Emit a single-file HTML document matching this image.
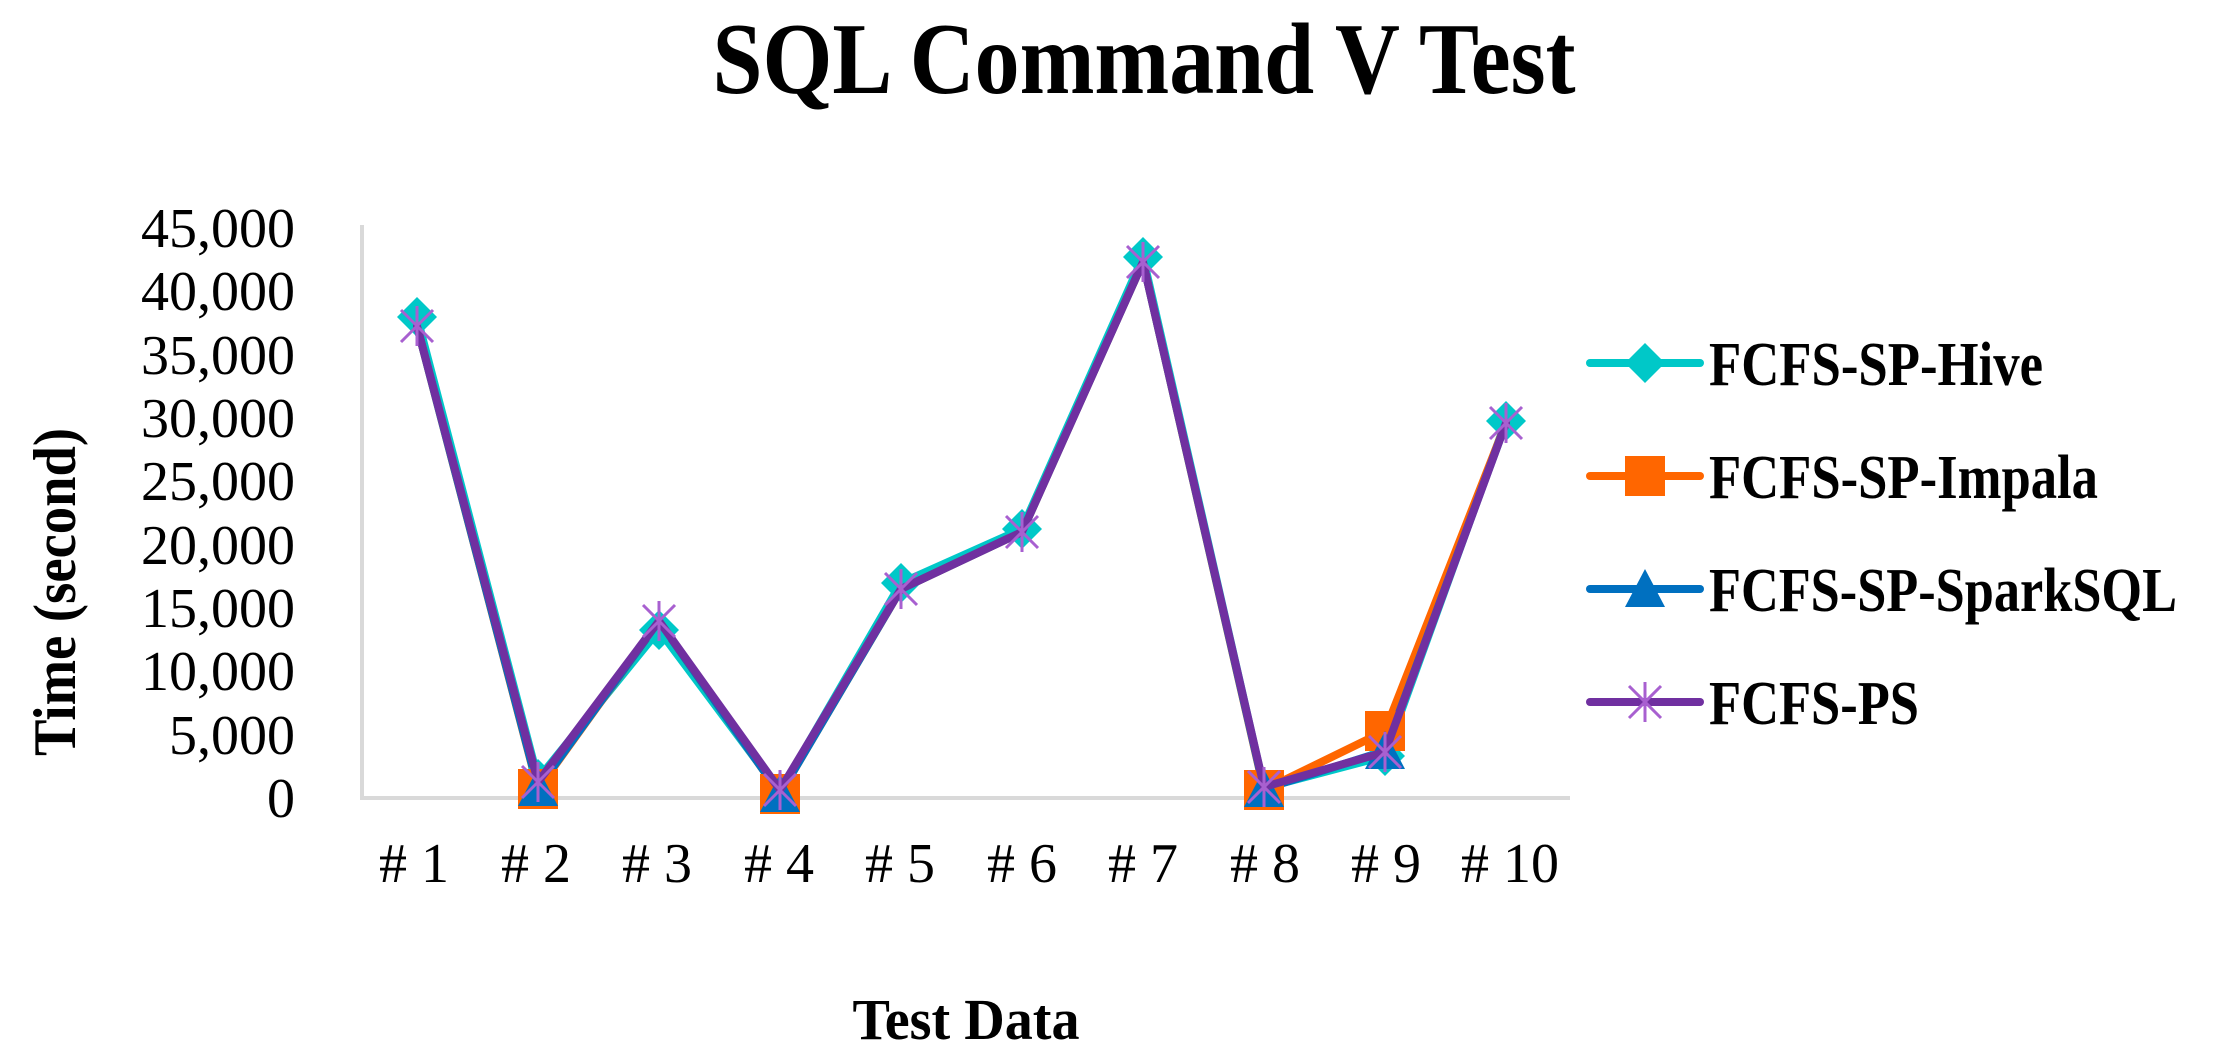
<!DOCTYPE html>
<html><head><meta charset="utf-8"><style>html,body{margin:0;padding:0;background:#fff}svg{display:block}</style></head>
<body>
<svg width="2232" height="1062" viewBox="0 0 2232 1062" xmlns="http://www.w3.org/2000/svg">
<defs>
<g id="dia"><polygon points="0,-20 20,0 0,20 -20,0" fill="#00C8C8"/></g>
<g id="sq"><rect x="-20" y="-20" width="40" height="40" fill="#FF6600"/></g>
<g id="tri"><polygon points="0,-20 20,18 -20,18" fill="#0070C0"/></g>
<g id="star" stroke="#A860D0" stroke-width="3"><line x1="-16" y1="-16" x2="16" y2="16"/><line x1="-16" y1="16" x2="16" y2="-16"/><line x1="0" y1="-20" x2="0" y2="20"/></g>
</defs>
<text x="1144" y="93" text-anchor="middle" font-family="Liberation Serif, serif" font-weight="bold" font-size="102" textLength="863" lengthAdjust="spacingAndGlyphs">SQL Command V Test</text>
<!-- axes -->
<line x1="362" y1="225" x2="362" y2="798" stroke="#d9d9d9" stroke-width="4"/>
<line x1="360" y1="798" x2="1570" y2="798" stroke="#d9d9d9" stroke-width="4"/>
<g font-family="Liberation Serif, serif" font-size="56" text-anchor="end" fill="#000">
<text x="295" y="247">45,000</text><text x="295" y="310">40,000</text><text x="295" y="374">35,000</text>
<text x="295" y="437">30,000</text><text x="295" y="500">25,000</text><text x="295" y="564">20,000</text>
<text x="295" y="627">15,000</text><text x="295" y="690">10,000</text><text x="295" y="754">5,000</text>
<text x="295" y="817">0</text>
</g>
<g font-family="Liberation Serif, serif" font-size="56" text-anchor="middle">
<text x="414" y="882"># 1</text><text x="536" y="882"># 2</text><text x="657" y="882"># 3</text><text x="779" y="882"># 4</text><text x="900" y="882"># 5</text><text x="1022" y="882"># 6</text><text x="1143" y="882"># 7</text><text x="1265" y="882"># 8</text><text x="1386" y="882"># 9</text><text x="1510" y="882"># 10</text>
</g>
<text transform="translate(75,592) rotate(-90)" text-anchor="middle" font-family="Liberation Serif, serif" font-weight="bold" font-size="60" textLength="328" lengthAdjust="spacingAndGlyphs">Time (second)</text>
<text x="966" y="1039" text-anchor="middle" font-family="Liberation Serif, serif" font-weight="bold" font-size="58" textLength="227" lengthAdjust="spacingAndGlyphs">Test Data</text>
<!-- series -->
<g fill="none" stroke-width="8" stroke-linejoin="round" stroke-linecap="round">
<polyline stroke="#00C8C8" points="417,317 538,779 659,630 780,792 901,583 1022,529 1143,257 1264,788 1385,756 1506,421"/>
<polyline stroke="#FF6600" points="417,326 538,789 659,621 780,794 901,589 1022,532 1143,262 1264,790 1385,731 1506,423"/>
<polyline stroke="#0070C0" points="417,326 538,788 659,621 780,794 901,589 1022,532 1143,262 1264,789 1385,751 1506,423"/>
</g>
<g>
<use href="#dia" x="417" y="317"/><use href="#dia" x="538" y="779"/><use href="#dia" x="659" y="630"/><use href="#dia" x="780" y="792"/><use href="#dia" x="901" y="583"/><use href="#dia" x="1022" y="529"/><use href="#dia" x="1143" y="257"/><use href="#dia" x="1264" y="788"/><use href="#dia" x="1385" y="756"/><use href="#dia" x="1506" y="421"/>
<use href="#sq" x="538" y="789"/><use href="#sq" x="780" y="794"/><use href="#sq" x="1264" y="790"/><use href="#sq" x="1385" y="731"/>
<use href="#tri" x="538" y="788"/><use href="#tri" x="780" y="794"/><use href="#tri" x="1264" y="789"/><use href="#tri" x="1385" y="751"/>
</g>
<polyline fill="none" stroke="#7030A0" stroke-width="8" stroke-linejoin="round" stroke-linecap="round" points="417,326 538,782 659,621 780,790 901,589 1022,532 1143,262 1264,787 1385,752 1506,423"/>
<g>
<use href="#star" x="417" y="326"/><use href="#star" x="538" y="782"/><use href="#star" x="659" y="621"/><use href="#star" x="780" y="790"/><use href="#star" x="901" y="589"/><use href="#star" x="1022" y="532"/><use href="#star" x="1143" y="262"/><use href="#star" x="1264" y="787"/><use href="#star" x="1385" y="752"/><use href="#star" x="1506" y="423"/>
</g>
<!-- legend -->
<g stroke-width="8" stroke-linecap="round">
<line x1="1590" y1="363" x2="1700" y2="363" stroke="#00C8C8"/>
<line x1="1590" y1="476" x2="1700" y2="476" stroke="#FF6600"/>
<line x1="1590" y1="589" x2="1700" y2="589" stroke="#0070C0"/>
<line x1="1590" y1="702" x2="1700" y2="702" stroke="#7030A0"/>
</g>
<use href="#dia" x="1645" y="363"/><use href="#sq" x="1645" y="476"/><use href="#tri" x="1645" y="589"/><use href="#star" x="1645" y="702"/>
<g font-family="Liberation Serif, serif" font-weight="bold" font-size="62">
<text x="1709" y="385" textLength="334" lengthAdjust="spacingAndGlyphs">FCFS-SP-Hive</text>
<text x="1709" y="498" textLength="389" lengthAdjust="spacingAndGlyphs">FCFS-SP-Impala</text>
<text x="1709" y="611" textLength="468" lengthAdjust="spacingAndGlyphs">FCFS-SP-SparkSQL</text>
<text x="1709" y="724" textLength="210" lengthAdjust="spacingAndGlyphs">FCFS-PS</text>
</g>
</svg>
</body></html>
